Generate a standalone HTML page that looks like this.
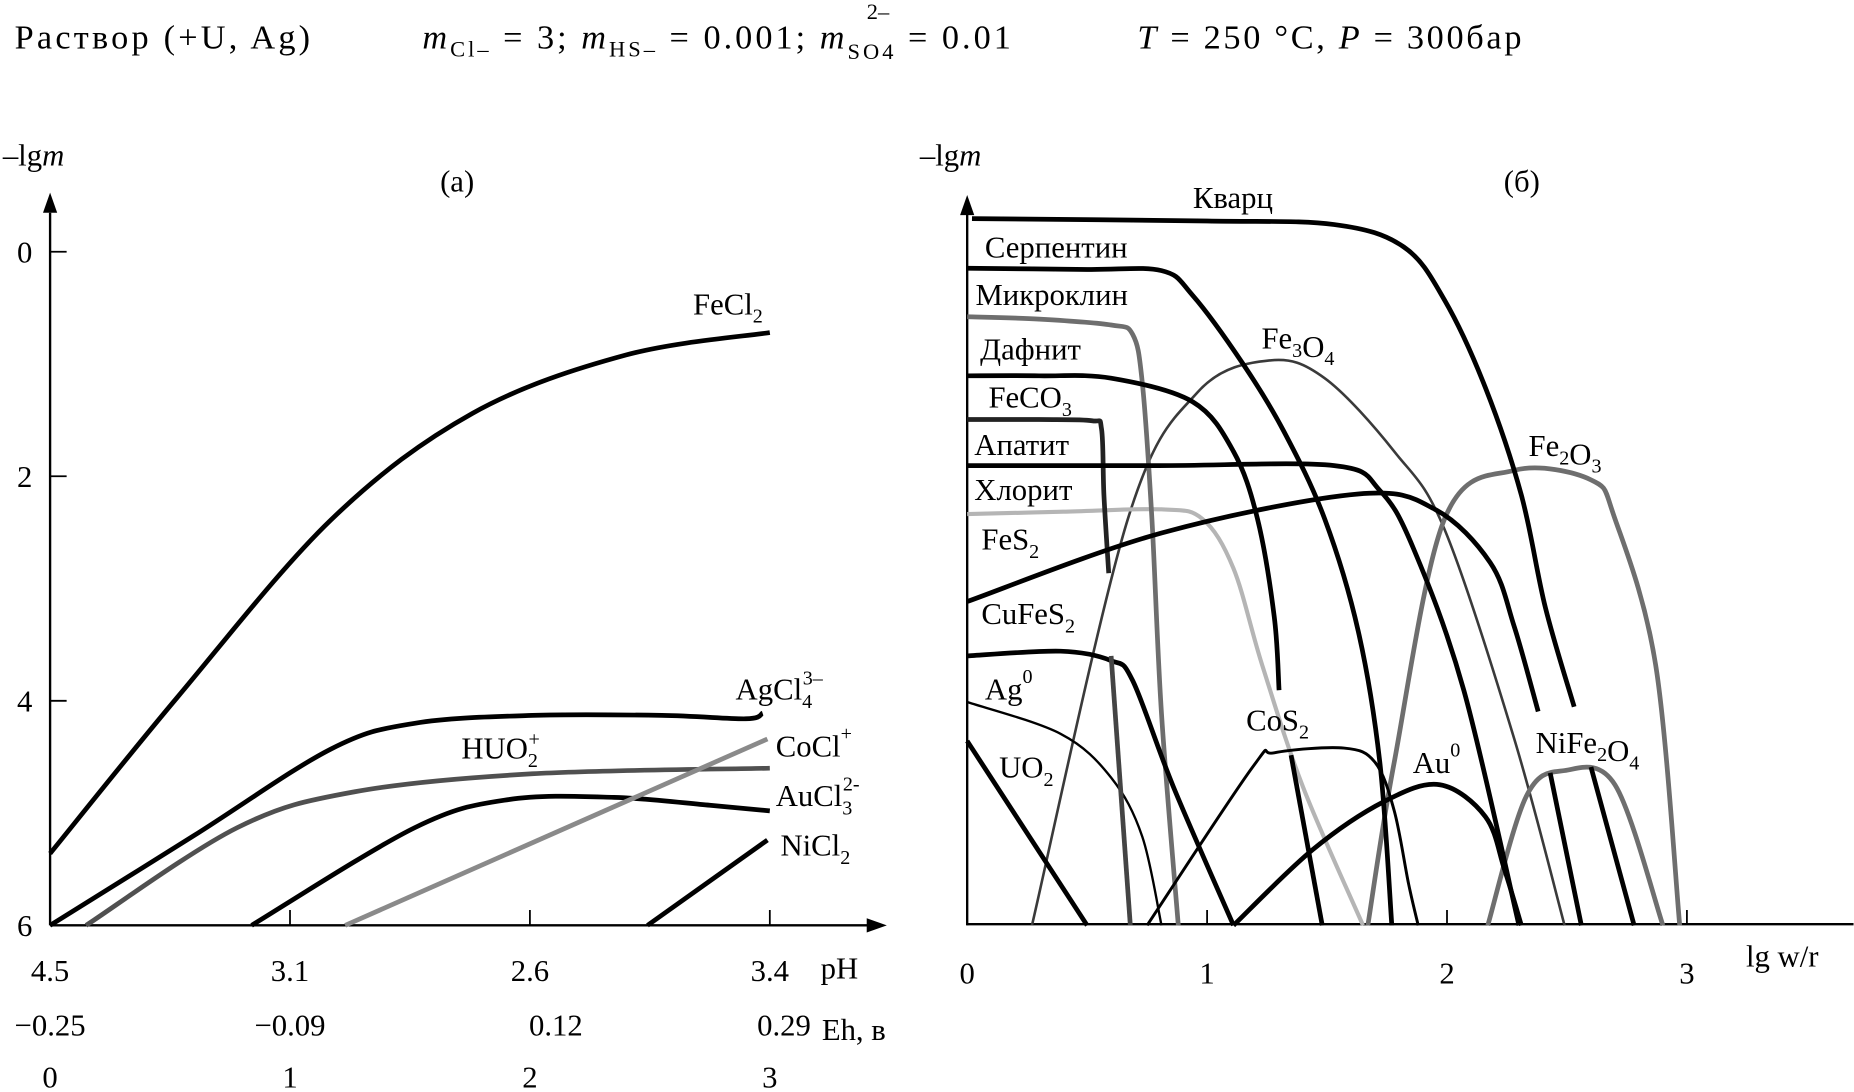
<!DOCTYPE html>
<html><head><meta charset="utf-8"><style>
html,body{margin:0;padding:0;background:#fff;}
svg{display:block;}
text{font-family:"Liberation Serif",serif;fill:#000;}
</style></head><body>
<svg id="chart" width="1854" height="1092" viewBox="0 0 1568 924" xmlns="http://www.w3.org/2000/svg">
<g font-size="29">
<text x="12" y="41" textLength="250" lengthAdjust="spacing">Раствор (+U, Ag)</text>
<text x="357" y="41" textLength="498" lengthAdjust="spacing"><tspan font-style="italic">m</tspan><tspan font-size="19" dy="7">Cl–</tspan><tspan dy="-7"> = 3;  </tspan><tspan font-style="italic">m</tspan><tspan font-size="19" dy="7">HS–</tspan><tspan dy="-7"> = 0.001;  </tspan><tspan font-style="italic">m</tspan><tspan font-size="19" dy="9">SO4</tspan><tspan dy="-9"> = 0.01</tspan></text>
<text x="733" y="16" font-size="19">2–</text>
<text x="962" y="41" textLength="325" lengthAdjust="spacing"><tspan font-style="italic">T</tspan> = 250 °C, <tspan font-style="italic">P</tspan> = 300бар</text>
</g>
<g id="left"></g>
<g id="right"></g>
</svg>
<script>
// ---------- Panel (a) data ----------
const aXTicks = [0,1,2,3];
const aPH = ["4.5","3.1","2.6","3.4"];
const aEh = ["−0.25","−0.09","0.12","0.29"];
const aYTicks = [0,2,4,6];
const feCl2X = [0,0.53,1.17,1.76,2.40,3.0];
const feCl2Y = [5.36,3.97,2.39,1.44,0.92,0.72];
const agCl4X = [0,0.6,1.17,1.52,2.01,2.55,2.90,2.97];
const agCl4Y = [6.0,5.2,4.43,4.2,4.13,4.13,4.16,4.11];
const huo2X = [0.15,0.78,1.27,2.01,3.0];
const huo2Y = [6.0,5.13,4.81,4.65,4.60];
const auCl3X = [0.84,1.52,1.91,2.35,2.75,3.0];
const auCl3Y = [6.0,5.13,4.88,4.86,4.93,4.98];
const coClX = [1.23,2.99];
const coClY = [6.0,4.34];
const niCl2X = [2.49,2.99];
const niCl2Y = [6.0,5.24];

// ---------- Panel (б) data ----------
const bXTicks = [0,1,2,3];
const quartzX=[0.02,1.0,1.53,1.82,1.99,2.16,2.31,2.41,2.53];
const quartzY=[0.02,0.04,0.07,0.26,0.71,1.45,2.36,3.31,4.15];
const serpX=[0,0.5,0.81,0.94,1.15,1.32,1.49,1.63,1.72,1.77];
const serpY=[0.44,0.45,0.46,0.67,1.25,1.82,2.56,3.51,4.62,6.0];
const microX=[0,0.3,0.60,0.69,0.73,0.77,0.81,0.88];
const microY=[0.85,0.87,0.92,1.0,1.41,2.56,4.21,6.0];
const daphX=[0,0.3,0.60,0.94,1.11,1.21,1.28,1.30];
const daphY=[1.35,1.35,1.37,1.57,1.99,2.56,3.39,4.01];
const feco3X=[0,0.3,0.52,0.56,0.57,0.59];
const feco3Y=[1.72,1.72,1.73,1.80,2.36,3.02];
const apatX=[0,0.8,1.53,1.72,1.86,2.07,2.30];
const apatY=[2.11,2.11,2.11,2.32,2.81,4.01,6.0];
const chlorX=[0,0.4,0.81,0.98,1.11,1.23,1.40,1.65];
const chlorY=[2.52,2.5,2.48,2.56,2.98,3.80,4.83,6.0];
const fes2X=[0,0.81,1.63,1.95,2.18,2.28,2.38];
const fes2Y=[3.26,2.68,2.35,2.48,2.93,3.47,4.19];
const cufes2X=[0,0.39,0.60,0.69,0.86,1.11];
const cufes2Y=[3.72,3.68,3.76,3.93,4.83,6.0];
const ag0X=[0,0.39,0.60,0.73,0.81];
const ag0Y=[4.11,4.38,4.75,5.25,6.0];
const uo2X=[0,0.50];
const uo2Y=[4.44,6.0];
const fe3o4X=[0.27,0.67,0.96,1.26,1.49,1.78,1.99,2.28,2.49];
const fe3o4Y=[6.0,2.56,1.49,1.22,1.37,1.99,2.65,4.42,6.0];
const fe2o3X=[1.67,1.78,1.99,2.28,2.60,2.70,2.87,2.97];
const fe2o3Y=[6.0,4.62,2.56,2.15,2.23,2.56,3.80,6.0];
const nife2o4X=[2.17,2.33,2.49,2.70,2.90];
const nife2o4Y=[6.0,4.91,4.69,4.81,6.0];
const cos2X=[0.75,1.19,1.28,1.57,1.70,1.78,1.84,1.88];
const cos2Y=[6.0,4.66,4.54,4.50,4.62,5.03,5.65,6.0];
const au0X=[1.11,1.44,1.74,1.97,2.16,2.24,2.31];
const au0Y=[6.0,5.36,4.95,4.81,5.08,5.53,6.0];
const grayDropX=[0.60,0.68];
const grayDropY=[3.72,6.0];
const drop1X=[1.35,1.48]; const drop1Y=[4.56,6.0];
const drop2X=[2.43,2.56]; const drop2Y=[4.71,6.0];
const drop3X=[2.60,2.78]; const drop3Y=[4.66,6.0];

const NS="http://www.w3.org/2000/svg";
function mk(tag, attrs, parent){const e=document.createElementNS(NS,tag);for(const k in attrs)e.setAttribute(k,attrs[k]);parent.appendChild(e);return e;}

const axA = u => 42 + 203*u;
const ayA = v => 213 + 95*v;
const axB = u => 818 + 203*u;
const ayB = v => 183 + 100*v;

function pathD(xs, ys, fx, fy){
  const p = xs.map((x,i)=>[fx(x),fy(ys[i])]);
  if(p.length<3) return "M"+p.map(q=>q.join(",")).join("L");
  let d="M"+p[0][0]+","+p[0][1];
  for(let i=0;i<p.length-1;i++){
    const p0=p[i-1]||p[i], p1=p[i], p2=p[i+1], p3=p[i+2]||p2;
    const c1=[p1[0]+(p2[0]-p0[0])/6, p1[1]+(p2[1]-p0[1])/6];
    const c2=[p2[0]-(p3[0]-p1[0])/6, p2[1]-(p3[1]-p1[1])/6];
    d+=` C${c1[0]},${c1[1]} ${c2[0]},${c2[1]} ${p2[0]},${p2[1]}`;
  }
  return d;
}
function curve(g, xs, ys, fx, fy, color, w, name){
  const e=mk('path',{d:pathD(xs,ys,fx,fy),fill:'none',stroke:color,'stroke-width':w,'stroke-linecap':'butt','stroke-linejoin':'round'},g);
  
  
  return e;
}
function label(g, x, y, html, name, size){
  const t=mk('text',{x:x,y:y,'font-size':size||26},g);
  t.innerHTML=html;
  
  
  return t;
}
const sub = s => `<tspan font-size="17" dy="7">${s}</tspan><tspan dy="-7"></tspan>`;

// ---- Panel A ----
const L=document.getElementById('left');
const ya=mk('path',{d:"M42,783 L42,180",stroke:'#000','stroke-width':2,fill:'none'},L);


const yah=mk('path',{d:"M36,180 L42,163 L48,180 Z",fill:'#000'},L);


const xa=mk('path',{d:"M42,783 L735,783",stroke:'#000','stroke-width':2,fill:'none'},L);


const xah=mk('path',{d:"M733,777 L750,783 L733,789 Z",fill:'#000'},L);


aYTicks.forEach((v,i)=>{
  const t=mk('line',{x1:42,x2:56,y1:ayA(v),y2:ayA(v),stroke:'#000','stroke-width':1.5},L);
  
  
  label(L,14,ayA(v)+9,String(v),'a-y-tick-label',26);
});
aXTicks.forEach((u,i)=>{
  if(i>0){const t=mk('line',{x1:axA(u),x2:axA(u),y1:783,y2:770,stroke:'#000','stroke-width':1.5},L);
  
  }
  const a=label(L,axA(u),830,aPH[i],'ph-tick-label',26); a.setAttribute('text-anchor','middle');
  const b=label(L,axA(u)+(i==2?22:0)+(i==3?12:0),876,aEh[i],'eh-tick-label',26); b.setAttribute('text-anchor','middle');
  const c=label(L,axA(u),920,String(u),'index-tick-label',26); c.setAttribute('text-anchor','middle');
});
label(L,694,828,'pH','ph-axis-title',26);
label(L,695,880,'Eh, в','eh-axis-title',26);
label(L,2,140,'–lg<tspan font-style="italic">m</tspan>','a-y-axis-title',26);
label(L,372,162,'(a)','panel-a-title',26);

curve(L,feCl2X,feCl2Y,axA,ayA,'#000',4,'fecl2-line');
curve(L,agCl4X,agCl4Y,axA,ayA,'#000',4,'agcl4-line');
curve(L,huo2X,huo2Y,axA,ayA,'#505050',4,'huo2-line');
curve(L,auCl3X,auCl3Y,axA,ayA,'#000',4,'aucl3-line');
curve(L,coClX,coClY,axA,ayA,'#8a8a8a',4,'cocl-line');
curve(L,niCl2X,niCl2Y,axA,ayA,'#000',4,'nicl2-line');
label(L,586,266,'FeCl'+sub('2'),'fecl2-label');
label(L,622,592,'AgCl'+sub('4')+'<tspan font-size="17" dx="-8" dy="-20">3–</tspan>','agcl4-label');
label(L,390,642,'HUO'+sub('2')+'<tspan font-size="17" dx="-8" dy="-18">+</tspan>','huo2-label');
label(L,656,640,'CoCl'+'<tspan font-size="17" dy="-14">+</tspan>','cocl-label');
label(L,656,682,'AuCl'+sub('3')+'<tspan font-size="17" dx="-8" dy="-20">2-</tspan>','aucl3-label');
label(L,660,724,'NiCl'+sub('2'),'nicl2-label');

// ---- Panel B ----
const R=document.getElementById('right');
const yb=mk('path',{d:"M818,783 L818,180",stroke:'#000','stroke-width':2,fill:'none'},R);


const ybh=mk('path',{d:"M812,182 L818,165 L824,182 Z",fill:'#000'},R);


const xb=mk('path',{d:"M818,782 L1568,782",stroke:'#000','stroke-width':2,fill:'none'},R);


bXTicks.forEach((u,i)=>{
  if(i>0){const t=mk('line',{x1:axB(u),x2:axB(u),y1:782,y2:770,stroke:'#000','stroke-width':1.5},R);
  
  }
  const c=label(R,axB(u),832,String(u),'b-x-tick-label',26); c.setAttribute('text-anchor','middle');
});
label(R,1477,818,'lg w/r','b-x-axis-title',26);
label(R,778,140,'–lg<tspan font-style="italic">m</tspan>','b-y-axis-title',26);
label(R,1272,162,'(б)','panel-b-title',26);

curve(R,fe3o4X,fe3o4Y,axB,ayB,'#3a3a3a',2.2,'fe3o4-line');
curve(R,chlorX,chlorY,axB,ayB,'#b5b5b5',3.5,'chlorite-line');
curve(R,fe2o3X,fe2o3Y,axB,ayB,'#6e6e6e',4,'fe2o3-line');
curve(R,nife2o4X,nife2o4Y,axB,ayB,'#6e6e6e',4,'nife2o4-line');
curve(R,microX,microY,axB,ayB,'#6e6e6e',4,'microcline-line');
curve(R,quartzX,quartzY,axB,ayB,'#000',4,'quartz-line');
curve(R,serpX,serpY,axB,ayB,'#000',4,'serpentine-line');
curve(R,daphX,daphY,axB,ayB,'#000',4,'daphnite-line');
curve(R,feco3X,feco3Y,axB,ayB,'#222',4,'feco3-line');
curve(R,apatX,apatY,axB,ayB,'#000',4,'apatite-line');
curve(R,fes2X,fes2Y,axB,ayB,'#000',4,'fes2-line');
curve(R,cufes2X,cufes2Y,axB,ayB,'#000',4,'cufes2-line');
curve(R,ag0X,ag0Y,axB,ayB,'#000',2,'ag0-line');
curve(R,uo2X,uo2Y,axB,ayB,'#000',4,'uo2-line');
curve(R,cos2X,cos2Y,axB,ayB,'#000',2.5,'cos2-line');
curve(R,au0X,au0Y,axB,ayB,'#000',4,'au0-line');
curve(R,grayDropX,grayDropY,axB,ayB,'#444',4,'gray-drop-line');
curve(R,drop1X,drop1Y,axB,ayB,'#000',4,'drop-line-1');
curve(R,drop2X,drop2Y,axB,ayB,'#000',4,'drop-line-2');
curve(R,drop3X,drop3Y,axB,ayB,'#000',4,'drop-line-3');

label(R,1009,176,'Кварц','quartz-label');
label(R,833,218,'Серпентин','serpentine-label');
label(R,825,258,'Микроклин','microcline-label');
label(R,829,304,'Дафнит','daphnite-label');
label(R,836,345,'FeCO'+sub('3'),'feco3-label');
label(R,824,385,'Апатит','apatite-label');
label(R,824,423,'Хлорит','chlorite-label');
label(R,830,465,'FeS'+sub('2'),'fes2-label');
label(R,830,528,'CuFeS'+sub('2'),'cufes2-label');
label(R,833,592,'Ag'+'<tspan font-size="17" dy="-14">0</tspan>','ag0-label');
label(R,845,658,'UO'+sub('2'),'uo2-label');
label(R,1067,295,'Fe'+sub('3')+'O'+sub('4'),'fe3o4-label');
label(R,1293,386,'Fe'+sub('2')+'O'+sub('3'),'fe2o3-label');
label(R,1054,618,'CoS'+sub('2'),'cos2-label');
label(R,1195,654,'Au'+'<tspan font-size="17" dy="-14">0</tspan>','au0-label');
label(R,1299,637,'NiFe'+sub('2')+'O'+sub('4'),'nife2o4-label');
</script>
</body></html>
